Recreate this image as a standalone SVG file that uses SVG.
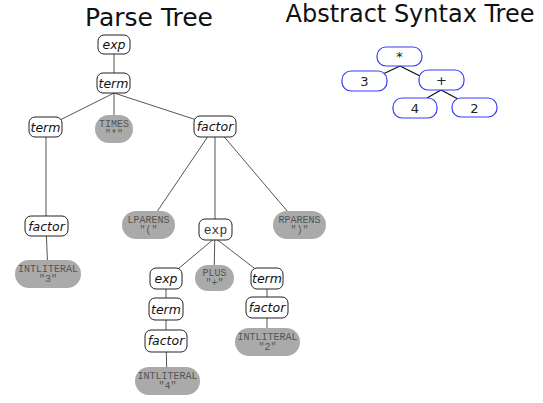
<svg xmlns="http://www.w3.org/2000/svg" width="543" height="403" viewBox="0 0 543 403">
<style>
.title{font-family:"DejaVu Sans",sans-serif;fill:#111}
.nt rect{fill:#fff;stroke:#222;stroke-width:1}
.nt text{font-family:"DejaVu Sans",sans-serif;font-style:italic;font-size:12.5px;fill:#111;text-anchor:middle}
.tk rect{fill:#aaa;stroke:none}
.tk text{font-family:"Liberation Mono","DejaVu Sans Mono",monospace;font-size:10px;fill:#555;text-anchor:middle}
.mono text{font-family:"Liberation Mono",monospace;font-style:normal;font-size:13px;fill:#333}
.ast rect{fill:#fff;stroke:#3a3aff;stroke-width:1.2}
.ast text{font-family:"DejaVu Sans",sans-serif;font-size:13px;fill:#222;text-anchor:middle}
.edges line{stroke:#555;stroke-width:1}
.aedges line{stroke:#111;stroke-width:1.3}
</style>
<rect width="543" height="403" fill="#fff"/>
<text class="title" x="149" y="26" font-size="25" text-anchor="middle">Parse Tree</text>
<text class="title" x="410" y="22" font-size="24" text-anchor="middle">Abstract Syntax Tree</text>
<g class="edges" id="connectors">
<line x1="114" y1="44" x2="114" y2="83"/>
<line x1="114" y1="93" x2="46" y2="127"/>
<line x1="114" y1="83" x2="114" y2="129"/>
<line x1="114" y1="93" x2="215" y2="126"/>
<line x1="46" y1="127" x2="46" y2="226"/>
<line x1="46" y1="226" x2="48" y2="274"/>
<line x1="215" y1="126" x2="148" y2="225"/>
<line x1="215" y1="126" x2="215" y2="229"/>
<line x1="215" y1="126" x2="299" y2="225"/>
<line x1="215" y1="238" x2="166" y2="279"/>
<line x1="215" y1="229" x2="214" y2="278"/>
<line x1="215" y1="238" x2="267" y2="278"/>
<line x1="166" y1="279" x2="166" y2="309"/>
<line x1="166" y1="309" x2="166" y2="341"/>
<line x1="166" y1="341" x2="167" y2="381"/>
<line x1="267" y1="278" x2="267" y2="307"/>
<line x1="267" y1="307" x2="267" y2="342"/>
</g>
<g class="aedges" id="ast-connectors">
<line x1="400" y1="66" x2="383" y2="74"/>
<line x1="400" y1="66" x2="422" y2="77"/>
<line x1="441" y1="90" x2="427" y2="98"/>
<line x1="441" y1="90" x2="458" y2="99"/>
</g>
<g class="nt" id="pt-exp"><rect x="98" y="35" width="32" height="19" rx="6"/><text x="114" y="49">exp</text></g>
<g class="nt" id="pt-term1"><rect x="97" y="73" width="33" height="20" rx="6"/><text x="113.5" y="87.5">term</text></g>
<g class="nt" id="pt-term2"><rect x="29" y="117" width="33" height="20" rx="6"/><text x="45.5" y="131.5">term</text></g>
<g class="tk" id="pt-times"><rect x="95" y="115" width="38" height="28" rx="14"/><text x="114" y="126.5">TIMES</text><text x="114" y="137">"*"</text></g>
<g class="nt" id="pt-factor1"><rect x="194" y="116" width="42" height="21" rx="6"/><text x="215" y="130.5">factor</text></g>
<g class="nt" id="pt-factor2"><rect x="25" y="216" width="43" height="20" rx="6"/><text x="46.5" y="230.5">factor</text></g>
<g class="tk" id="pt-int3"><rect x="15" y="260" width="66" height="28" rx="14"/><text x="48" y="271.5">INTLITERAL</text><text x="48" y="282">"3"</text></g>
<g class="tk" id="pt-lparens"><rect x="122" y="211" width="53" height="28" rx="14"/><text x="148.5" y="222.5">LPARENS</text><text x="148.5" y="233">"("</text></g>
<g class="nt mono" id="pt-exp2"><rect x="199" y="219" width="33" height="21" rx="6"/><text x="215.5" y="233.5">exp</text></g>
<g class="tk" id="pt-rparens"><rect x="273" y="211" width="53" height="28" rx="14"/><text x="299.5" y="222.5">RPARENS</text><text x="299.5" y="233">")"</text></g>
<g class="nt" id="pt-exp3"><rect x="150" y="268" width="32" height="21" rx="6"/><text x="166" y="282.5">exp</text></g>
<g class="tk" id="pt-plus"><rect x="195" y="265" width="39" height="26" rx="13"/><text x="214.5" y="275.5">PLUS</text><text x="214.5" y="286">"+"</text></g>
<g class="nt" id="pt-term3"><rect x="251" y="268" width="32" height="21" rx="6"/><text x="267" y="282.5">term</text></g>
<g class="nt" id="pt-term4"><rect x="149" y="298" width="34" height="22" rx="6"/><text x="166" y="313.5">term</text></g>
<g class="nt" id="pt-factor3"><rect x="246" y="297" width="42" height="21" rx="6"/><text x="267" y="311.5">factor</text></g>
<g class="nt" id="pt-factor4"><rect x="145" y="330" width="42" height="22" rx="6"/><text x="166" y="345">factor</text></g>
<g class="tk" id="pt-int2"><rect x="235" y="328" width="65" height="28" rx="14"/><text x="267.5" y="339.5">INTLITERAL</text><text x="267.5" y="350">"2"</text></g>
<g class="tk" id="pt-int4"><rect x="135" y="367" width="65" height="28" rx="14"/><text x="167.5" y="378.5">INTLITERAL</text><text x="167.5" y="389">"4"</text></g>
<g class="ast" id="ast-times"><rect x="377" y="47" width="45" height="19" rx="9"/><text x="399.5" y="61">*</text></g>
<g class="ast" id="ast-3"><rect x="342" y="71" width="45" height="20" rx="9"/><text x="364.5" y="86">3</text></g>
<g class="ast" id="ast-plus"><rect x="419" y="70" width="45" height="20" rx="9"/><text x="441.5" y="85">+</text></g>
<g class="ast" id="ast-4"><rect x="393" y="98" width="44" height="20" rx="9"/><text x="415" y="113">4</text></g>
<g class="ast" id="ast-2"><rect x="452" y="98" width="45" height="19" rx="9"/><text x="474.5" y="112.5">2</text></g>
</svg>
